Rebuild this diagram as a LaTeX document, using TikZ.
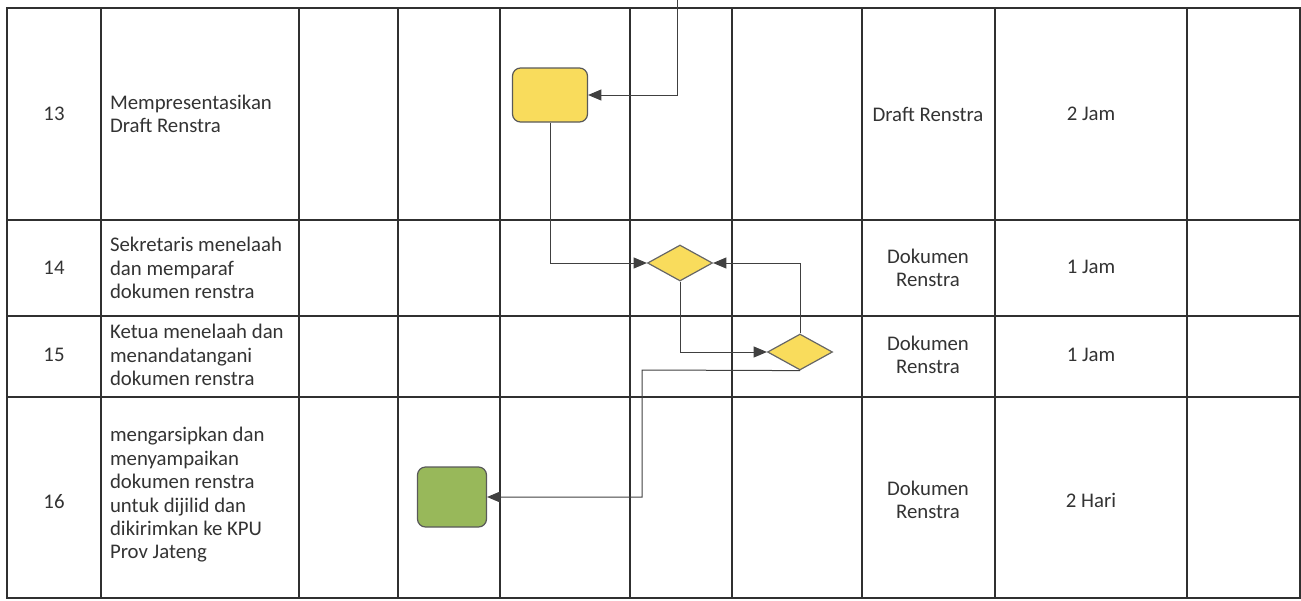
\documentclass[tikz,border=0pt]{standalone}
\usepackage{fontspec}
\setmainfont{Carlito}
\usetikzlibrary{shapes.geometric, positioning, arrows}
\definecolor{kuning}{HTML}{F9DC5C}
\definecolor{hijau}{HTML}{98B85A}
\definecolor{garis}{HTML}{303030}

\begin{document}
\begin{tikzpicture}[x=0.5pt,y=-0.5pt,font=\fontsize{10.4}{11.7}\selectfont,
		tabel/.style={draw=garis,line width=1pt},
		proses/.style={draw=black!65,rounded corners=4pt,line width=0.6pt,inner sep=0pt},
		keputusan/.style={diamond,draw=black!60,fill=kuning,line width=0.6pt,inner sep=0pt,
			minimum width=32.5pt,minimum height=18pt},
		alur/.style={->,>=triangle 45,draw=black!75,line width=0.5pt},
		uraian/.style={anchor=west,align=left,text=black!80},
		isi/.style={align=center,text=black!80}]
	\useasboundingbox (0,0) rectangle (1301,600);
	\draw[tabel] (7,8) rectangle (1300,598);
	\foreach \x in {101,299,398,500,630,732,862,995,1187}
		\draw[tabel] (\x,8) -- (\x,598);
	\foreach \y in {220,316,397}
		\draw[tabel] (7,\y) -- (1300,\y);

	\node[isi] (no13) at (54,114) {13};
	\node[isi] (no14) at (54,268) {14};
	\node[isi] (no15) at (54,355) {15};
	\node[isi] (no16) at (54,502) {16};

	\node[uraian] (kegiatan13) at (103,114) {Mempresentasikan\\Draft Renstra};
	\node[uraian] (kegiatan14) at (103,268) {Sekretaris menelaah\\dan memparaf\\dokumen renstra};
	\node[uraian] (kegiatan15) at (103,355) {Ketua menelaah dan\\menandatangani\\dokumen renstra};
	\node[uraian] (kegiatan16) at (103,495) {mengarsipkan dan\\menyampaikan\\dokumen renstra\\untuk dijilid dan\\dikirimkan ke KPU\\Prov Jateng};

	\node[isi] (output13) at (928,114) {Draft Renstra};
	\node[isi] (output14) at (928,268) {Dokumen\\Renstra};
	\node[isi] (output15) at (928,355) {Dokumen\\Renstra};
	\node[isi] (output16) at (928,500) {Dokumen\\Renstra};

	\node[isi] (waktu13) at (1091,114) {2 Jam};
	\node[isi] (waktu14) at (1091,267) {1 Jam};
	\node[isi] (waktu15) at (1091,355) {1 Jam};
	\node[isi] (waktu16) at (1091,500) {2 Hari};

	\node[proses,fill=kuning,minimum width=37.5pt,minimum height=27pt] (presentasi) at (550,95) {};
	\node[keputusan] (paraf) at (680,263) {};
	\node[keputusan] (tandatangan) at (800,352) {};
	\node[proses,fill=hijau,minimum width=34.5pt,minimum height=30pt] (arsip) at (452,497) {};

	\coordinate (masuk) at (677,0);
	\coordinate (belok) at (642,370);
	\draw[alur] (masuk) |- (presentasi.east);
	\draw[alur] (presentasi.south) |- (paraf.west);
	\draw[alur] (tandatangan.north) |- (paraf.east);
	\draw[alur] (paraf.south) |- (tandatangan.west);
	\draw[alur] (tandatangan.south) -- (belok) |- (arsip.east);
\end{tikzpicture}
\end{document}
